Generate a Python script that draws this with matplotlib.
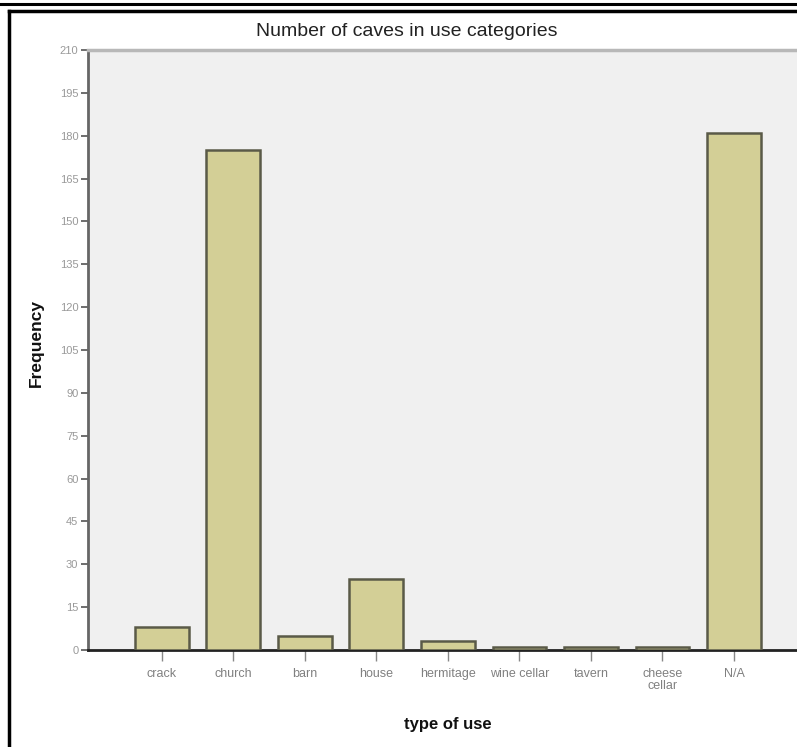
import matplotlib.pyplot as plt
from matplotlib.lines import Line2D

# data
categories = ["crack", "church", "barn", "house", "hermitage",
              "wine cellar", "tavern", "cheese\ncellar", "N/A"]
counts = [8, 175, 5, 25, 3, 1, 1, 1, 181]
yticks = list(range(0, 211, 15))

plt.rcParams["font.family"] = ["Liberation Sans", "DejaVu Sans"]

W, H = 797, 747
fig = plt.figure(figsize=(W / 100, H / 100), dpi=100)
fig.patch.set_facecolor("white")

ax = fig.add_axes([88 / W, (H - 650) / H, (W - 88) / W, 600 / H])
ax.set_facecolor("#f0f0f0")

x = list(range(len(categories)))
ax.bar(x, counts, width=0.75, color="#d3cf96", edgecolor="#5a5a48", linewidth=1.8, zorder=3)

ax.set_xlim(-1.03, 8.88)
ax.set_ylim(0, 210)
ax.set_yticks(yticks)
ax.set_yticklabels([str(t) for t in yticks], fontsize=8, color="#999999")
ax.set_xticks(x)
ax.set_xticklabels(categories, fontsize=9, color="#808080", linespacing=0.95)

ax.tick_params(axis="y", length=5, width=1.2, color="#555555", pad=2)
ax.tick_params(axis="x", length=8, width=1.0, color="#888888", pad=5)

ax.spines["right"].set_visible(False)
ax.spines["top"].set_color("#b8b8b8")
ax.spines["top"].set_linewidth(2.5)
ax.spines["left"].set_color("#666666")
ax.spines["left"].set_linewidth(2)
ax.spines["bottom"].set_color("#222222")
ax.spines["bottom"].set_linewidth(2)

fig.text(407 / W, 1 - 31 / H, "Number of caves in use categories",
         ha="center", va="center", fontsize=14, color="#222222")
fig.text(448 / W, 1 - 724 / H, "type of use",
         ha="center", va="center", fontsize=12, color="#111111", fontweight="bold")
fig.text(36 / W, 1 - 343 / H, "Frequency", rotation=90,
         ha="center", va="center", fontsize=12.5, color="#111111", fontweight="bold")

# outer frame lines
fig.add_artist(Line2D([0, 1], [1 - 3.5 / H, 1 - 3.5 / H], color="black", linewidth=2.2))
fig.add_artist(Line2D([9 / W, 1], [1 - 10.5 / H, 1 - 10.5 / H], color="black", linewidth=2.5))
fig.add_artist(Line2D([9 / W, 9 / W], [0, 1 - 10.5 / H], color="black", linewidth=2.5))

fig.savefig("out.png", dpi=100)
